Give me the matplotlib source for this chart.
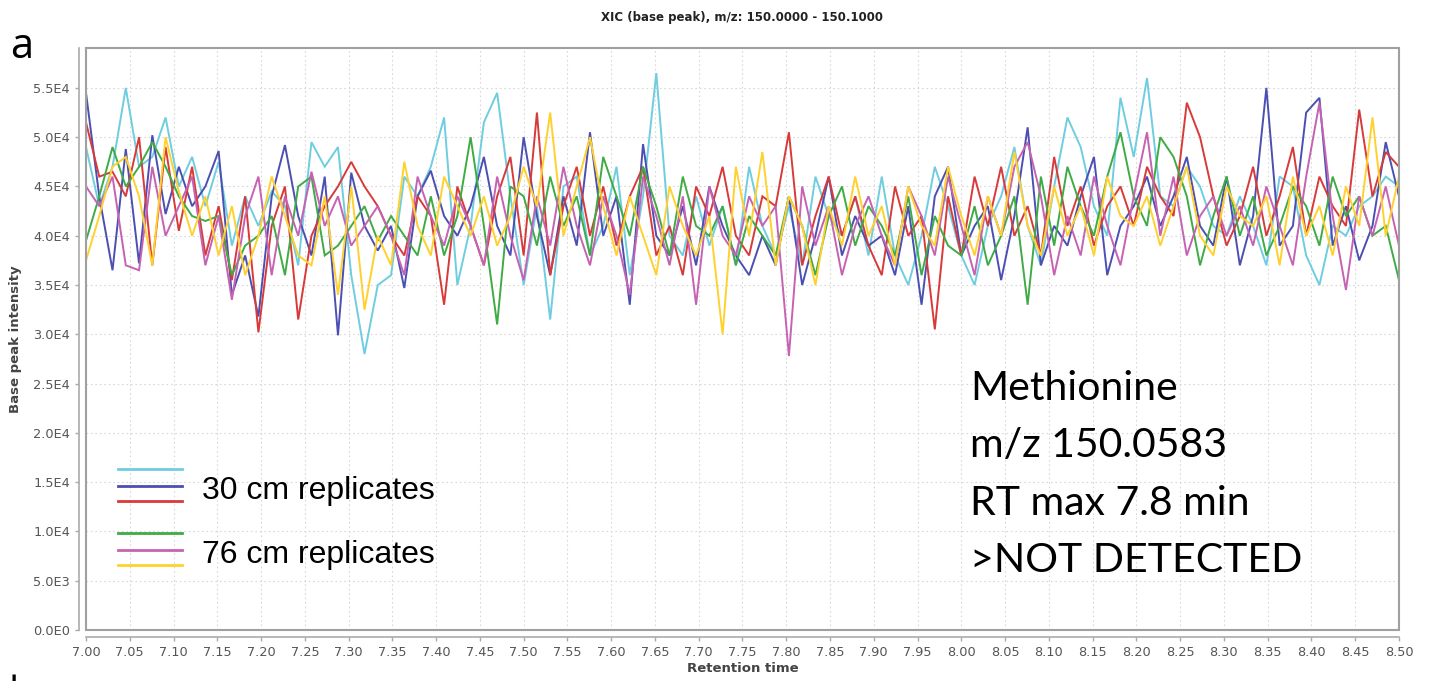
import numpy as np
import matplotlib.pyplot as plt
from matplotlib.patches import Rectangle
from matplotlib.lines import Line2D

RT_START, RT_END = 7.00, 8.50

cyan_30cm = [49, 43, 47, 55, 47, 48, 52, 45, 48, 43,
             47.5, 39, 44, 41, 44.5, 43, 37, 49.5, 47, 49,
             36, 28, 35, 36, 46, 44, 47, 52, 35, 41,
             51.5, 54.5, 44, 35, 43, 31.5, 45, 46, 38, 41,
             47, 36, 44, 56.5, 40, 38, 44, 39, 43, 37,
             47, 41, 38, 43, 37, 46, 42, 40, 44, 38,
             46, 38, 35, 40, 47, 43, 38, 35, 41, 44,
             49, 41, 37, 45, 52, 49, 43, 40, 54, 48,
             56, 44, 43, 47, 45, 41, 40, 44, 41, 37,
             46, 45, 38, 35, 41, 40, 43, 44, 46, 45]
blue_30cm = [54.5, 44, 36.5, 48.8, 37.2, 50.2, 42.2, 47, 43, 45,
             48.6, 34, 38, 31.8, 44, 49.2, 42, 38, 46, 29.9,
             46.4, 41, 38.5, 41, 34.7, 44, 46.6, 42, 40, 43,
             48, 41, 38, 50, 42, 36, 44, 39, 50.5, 40,
             44, 33, 49.3, 40, 38, 43, 37, 45, 41, 38,
             36, 40, 37, 44, 35, 40, 46, 38, 42, 39,
             40, 36, 43, 33, 44, 47, 38, 41, 43, 35.5,
             42, 51, 37, 41, 39, 44, 48, 36, 41, 43,
             46, 41, 44, 48, 41, 39, 46, 37, 42, 55,
             39, 41, 52.5, 54, 39, 43, 37.5, 41, 49.5, 44]
red_30cm = [51.5, 46, 46.5, 44, 50, 37, 49, 40.5, 47, 38,
            43, 35.5, 44, 30.2, 41, 45, 31.5, 40, 43, 45,
            47.5, 45, 43, 40, 38, 44, 42, 33, 45, 41,
            37, 44, 48, 38, 52.5, 36, 43, 47, 40, 45,
            39, 44, 47, 38, 41, 36, 45, 42, 47, 40,
            38, 44, 43, 50.5, 37, 42, 46, 40, 44, 39,
            36, 45, 40, 42, 30.5, 44, 38, 46, 41, 47,
            40, 43, 38, 48, 41, 45, 39, 43, 45, 41,
            47, 44, 42, 53.5, 50, 44, 39, 42, 47, 40,
            44, 49, 40, 46, 43, 41, 52.8, 44, 48.5, 47]
green_76cm = [39.5, 44, 49, 45, 47, 49.5, 47, 44, 42, 41.5,
              42, 36, 39, 40, 42, 36, 45, 46, 38, 39,
              41, 43, 39.5, 42, 40, 38, 44, 38, 42, 50,
              41, 31, 45, 44, 39, 46, 41, 44, 38, 48,
              44, 40, 47, 43, 38, 46, 41, 40, 43, 37,
              42, 40, 38, 44, 41, 36, 42, 45, 39, 43,
              41, 38, 44, 36, 42, 39, 38, 43, 37, 40,
              44, 33, 46, 39, 47, 43, 40, 46, 50.5, 44,
              41, 50, 48, 44, 37, 42, 46, 40, 44, 38,
              41, 45, 43, 39, 46, 42, 44, 40, 41, 35.5]
magenta_76cm = [45, 43, 46, 37, 36.5, 47, 40, 43, 46, 37,
                42, 33.5, 42, 46, 36, 44, 40, 46.5, 41, 44,
                39, 41, 43, 40, 36, 46, 42, 39, 44, 41,
                37, 46, 40, 35.5, 44, 39, 47, 41, 37, 44,
                40, 34, 46, 42, 37, 44, 33, 45, 40, 38,
                44, 41, 43, 27.8, 45, 39, 43, 36, 41, 44,
                40, 37, 45, 42, 38, 46, 41, 36, 44, 40,
                47, 49.5, 44, 36, 42, 38, 46, 41, 37, 44,
                50.5, 40, 46, 38, 42, 44, 40, 43, 39, 45,
                41, 37, 46, 53.5, 42, 34.5, 44, 40, 45, 39]
yellow_76cm = [37.5, 42, 47, 48, 44, 37, 50, 44.5, 40, 44,
               38, 43, 36, 40, 46, 42, 38, 37, 44, 34,
               45, 32.5, 40, 37, 47.5, 41, 38, 46, 43, 40,
               44, 39, 42, 47, 43, 52.5, 40, 45, 50, 43,
               38, 44, 40, 36, 45, 41, 38, 42, 30, 47,
               40, 48.5, 37, 44, 41, 35, 43, 39, 46, 40,
               43, 37, 45, 41, 39, 47, 42, 38, 44, 40,
               48.5, 41, 38, 45, 40, 43, 38, 46, 42, 41,
               44, 39, 43, 47, 40, 38, 45, 42, 41, 44,
               37, 46, 40, 43, 38, 45, 41, 52, 40, 46]

series = [(cyan_30cm, '#6fcde0'), (blue_30cm, '#4b4fb2'), (red_30cm, '#d83a3a'),
          (green_76cm, '#3fab45'), (magenta_76cm, '#c662b2'), (yellow_76cm, '#ffd12e')]
legend_groups = ['30 cm replicates', '76 cm replicates']
note_lines = ['Methionine', 'm/z 150.0583', 'RT max 7.8 min', '>NOT DETECTED']

W, H = 1443, 681
fig = plt.figure(figsize=(W/100, H/100), dpi=100)
ax = fig.add_axes([86/W, 1-630/H, (1399-86)/W, (630-47.5)/H])

for vals, col in series:
    rt = np.linspace(RT_START, RT_END, len(vals))
    ax.plot(rt, np.array(vals)*1000, color=col, lw=1.4, solid_joinstyle='miter')

ax.set_xlim(RT_START, RT_END)
ax.set_ylim(0, 59100)
xt = np.arange(7.0, 8.501, 0.05)
yt = np.arange(0, 55001, 5000)
ax.set_xticks(xt)
ax.set_yticks(yt)
ax.set_xticklabels(['%.2f' % t for t in xt])
ax.set_yticklabels(['0.0E0' if v == 0 else '%.1fE%d' % (v/10**int(np.log10(v)), int(np.log10(v)))
                    for v in yt])
ax.grid(True, ls=(0, (1.5, 2.5)), color='#d8d8d8', lw=0.8)
ax.set_axisbelow(True)

# JFreeChart style: offset axis lines plus a plain frame
for s in ['top', 'right']:
    ax.spines[s].set_visible(False)
for s in ['left', 'bottom']:
    ax.spines[s].set_position(('outward', 5))
    ax.spines[s].set_color('#aaaaaa')
    ax.spines[s].set_linewidth(1.2)
ax.add_patch(Rectangle((0, 0), 1, 1, transform=ax.transAxes, fill=False,
                       edgecolor='#a0a0a0', lw=1.5, clip_on=False, zorder=5))
ax.tick_params(colors='#aaaaaa', labelcolor='#555555', labelsize=9.3, length=3, width=1)

ax.set_xlabel('Retention time', fontsize=9.5, fontweight='bold', color='#444444', labelpad=2)
ax.set_ylabel('Base peak intensity', fontsize=9.5, fontweight='bold', color='#444444', labelpad=8)
fig.text(742/W, 1-17/H, 'XIC (base peak), m/z: 150.0000 - 150.1000', ha='center', va='center',
         fontsize=8.5, fontweight='bold', color='#222222')

fig.text(10/W, 1-58/H, 'a', fontsize=30, family='Open Sans', va='baseline')
fig.text(8/W, 1-707/H, 'b', fontsize=30, family='Open Sans', va='baseline')

# hand drawn legend
leg_y = [469, 486, 501, 533, 550, 565]
for (vals, col), y in zip(series, leg_y):
    fig.add_artist(Line2D([118/W, 182/W], [1-y/H, 1-y/H], color=col, lw=2))
for label, y in zip(legend_groups, [499, 563]):
    fig.text(202/W, 1-y/H, label, fontsize=23, family='Liberation Sans', va='baseline')

for line, y in zip(note_lines, [400, 457, 515, 572]):
    fig.text(970/W, 1-y/H, line, fontsize=29.5, family='Lato', va='baseline')

fig.savefig('out.png', dpi=100)
